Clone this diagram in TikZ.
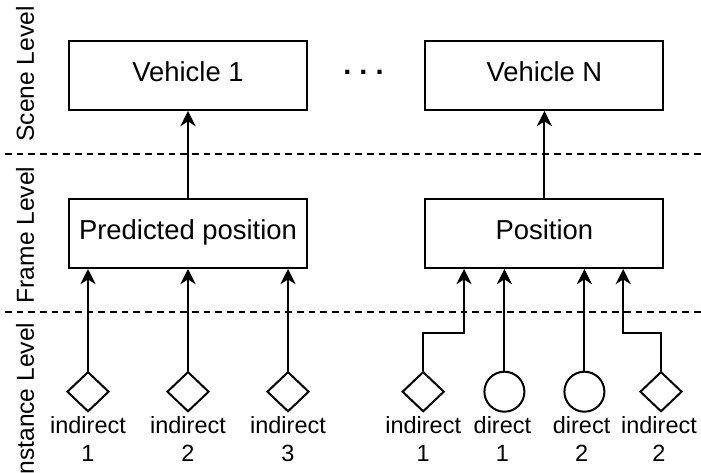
\documentclass[tikz,border=0pt]{standalone}
\usepackage{fontspec}
\setmainfont{Liberation Sans}
\usetikzlibrary{positioning, arrows.meta, shapes.geometric}

\tikzset{
  box/.style={draw, line width=0.05cm, minimum width=5.95cm, minimum height=1.725cm, inner sep=0pt, text height=0.86em, text depth=0pt, font=\fontsize{19.5}{23}\selectfont},
  indirectnode/.style={draw, diamond, line width=0.05cm, minimum width=1.05cm, minimum height=1cm, inner sep=0pt},
  directnode/.style={draw, circle, line width=0.05cm, minimum size=1cm, inner sep=0pt},
  lab/.style={align=center, anchor=north, inner sep=0pt, font=\fontsize{16.7}{20.1}\selectfont},
  lvl/.style={rotate=90, inner sep=0pt, font=\fontsize{17.5}{21}\selectfont},
  levelline/.style={line width=0.05cm, dash pattern=on 0.167cm off 0.125cm},
  arr/.style={line width=0.05cm, -{Stealth[length=0.38cm, width=0.38cm, inset=0.12cm]}},
}

\begin{document}
\begin{tikzpicture}
  \useasboundingbox (0,0) rectangle (17.525,11.8);

  % Level separators and names
  \coordinate (sl) at (0.125,7.94);
  \coordinate (sr) at (17.525,7.94);
  \coordinate (fl) at (0.125,4.01);
  \coordinate (fr) at (17.525,4.01);
  \draw[levelline] (sl) -- (sr);
  \draw[levelline] (fl) -- (fr);
  \node[lvl] (scene) at (0.625,9.95) {Scene Level};
  \node[lvl] (frame) at (0.625,5.925) {Frame Level};
  \node[lvl] (instance) at (0.625,1.75) {Instance Level};

  % Scene level
  \node[box] (v1) at (4.7,9.9125) {Vehicle 1};
  \node[box] (vn) at (13.61,9.9125) {Vehicle N};
  \node[anchor=base, inner sep=0pt, font=\fontsize{20.5}{24}\selectfont\bfseries] (dots) at (9.0875,9.9375) {\frenchspacing . . .};

  % Frame level
  \node[box] (pred) at (4.7,5.9625) {Predicted position};
  \node[box] (pos) at (13.61,5.9625) {Position};
  \draw[arr] (pred) -- (v1);
  \draw[arr] (pos) -- (vn);

  % Instance level - predicted
  \node[indirectnode] (a1) at (2.2,2.0075) {};
  \node[indirectnode] (a2) at (4.7,2.0075) {};
  \node[indirectnode] (a3) at (7.2,2.0075) {};
  \node[lab] (la1) at (2.2,1.4) {indirect\\1};
  \node[lab] (la2) at (4.7,1.4) {indirect\\2};
  \node[lab] (la3) at (7.2,1.4) {indirect\\3};
  \draw[arr] (a1.north) -- (a1.north |- pred.south);
  \draw[arr] (a2.north) -- (a2.north |- pred.south);
  \draw[arr] (a3.north) -- (a3.north |- pred.south);

  % Instance level - observed
  \node[indirectnode] (b1) at (10.58,2.0075) {};
  \node[directnode] (c1) at (12.61,2.0075) {};
  \node[directnode] (c2) at (14.61,2.0075) {};
  \node[indirectnode] (b2) at (16.525,2.0075) {};
  \node[lab] (lb1) at (10.58,1.4) {indirect\\1};
  \node[lab] (lc1) at (12.56,1.4) {direct\\1};
  \node[lab] (lc2) at (14.54,1.4) {direct\\2};
  \node[lab] (lb2) at (16.475,1.4) {indirect\\2};
  \coordinate (k1) at (11.6,3.4825);
  \coordinate (k2) at (15.58,3.4825);
  \draw[arr] (b1.north) |- (k1) -- (k1 |- pos.south);
  \draw[arr] (c1.north) -- (c1.north |- pos.south);
  \draw[arr] (c2.north) -- (c2.north |- pos.south);
  \draw[arr] (b2.north) |- (k2) -- (k2 |- pos.south);
\end{tikzpicture}
\end{document}
